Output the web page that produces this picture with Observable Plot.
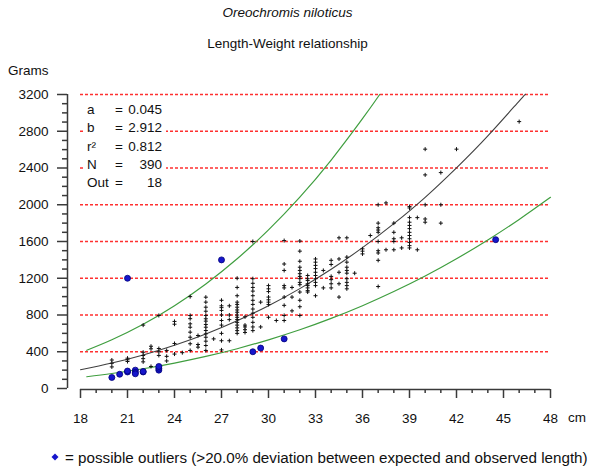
<!DOCTYPE html>
<html><head><meta charset="utf-8">
<script src="https://cdn.jsdelivr.net/npm/d3@7"></script>
<script src="https://cdn.jsdelivr.net/npm/@observablehq/plot@0.6"></script>
<style>
body{margin:0;background:#fff;font-family:"Liberation Sans",Arial,sans-serif;}
#wrap{position:relative;width:590px;height:469px;overflow:hidden;background:#fff}
.t{position:absolute;white-space:nowrap;color:#111;font-size:13.5px;line-height:1}
#stats{position:absolute;left:84px;top:100px;width:82px;height:96px;background:#fff}
#stats .t{position:absolute}
</style></head><body><div id="wrap"></div>
<script>
// ---- data ----
const title = "Oreochromis niloticus";
const subtitle = "Length-Weight relationship";
const yTitle = "Grams";
const xTitle = "cm";
const legendText = "= possible outliers (>20.0% deviation between expected and observed length)";
const statLabels = ["a", "b", "r²", "N", "Out"];
const statValues = ["0.045", "2.912", "0.812", "390", "18"];

const xMajorTicks = [18, 21, 24, 27, 30, 33, 36, 39, 42, 45, 48];
const yMajorTicks = [0, 400, 800, 1200, 1600, 2000, 2400, 2800, 3200];
const gridLines = [400, 800, 1200, 1600, 2000, 2400, 2800, 3200];

const lengthClasses = [20, 21, 22, 22.5, 23, 23.5, 24, 24.5, 25, 25.5, 26, 26.5, 27, 27.5, 28, 28.5,
  29, 29.5, 30, 30.5, 31, 31.5, 32, 32.5, 33, 33.5, 34, 34.5, 35, 35.5, 36, 36.5, 37, 37.5, 38, 38.5,
  39, 39.5, 40, 41, 42, 46];
const weightsByLength = [
  [310, 275, 235],
  [330, 312, 294],
  [690, 395, 360, 325, 290],
  [460, 432, 240],
  [795, 435, 400, 360],
  [414, 350, 300],
  [730, 700, 490, 375],
  [390],
  [1000, 795, 760, 704, 667, 613, 558, 487, 414],
  [577, 479, 450],
  [994, 940, 885, 841, 795, 759, 733, 697, 667, 631, 595, 558, 515, 468, 414],
  [540],
  [960, 900, 880, 850, 800, 740, 690, 600, 520, 420],
  [900, 800, 750, 520],
  [1200, 1100, 1010, 940, 915, 885, 855, 830, 800, 775, 750, 720, 690, 660, 630, 600],
  [780, 690, 670, 640, 610],
  [1600, 1195, 1145, 1100, 1060, 1010, 960, 915, 865, 820, 775, 720, 670, 630],
  [940, 670],
  [1120, 1085, 1055, 995, 965, 940, 915, 775],
  [740],
  [1610, 1355, 1285, 1120, 1095, 995, 905, 795, 740],
  [1100, 995, 845],
  [1605, 1495, 1385, 1320, 1285, 1250, 1220, 1195, 1155, 1130, 1050, 960, 890, 795],
  [1230, 1195, 1175, 1140, 1120, 1095, 1065, 1050],
  [1410, 1375, 1340, 1305, 1265, 1230, 1195, 1155, 1120, 1010],
  [1285, 1095],
  [1395, 1350, 1220, 1185, 1140, 1095],
  [1640, 1410, 1265, 1140, 995],
  [1640, 1430, 1375, 1320, 1285, 1255, 1195, 1155, 1120, 1085],
  [1255],
  [1520, 1495, 1465],
  [1665],
  [2000, 1800, 1750, 1725, 1700, 1600, 1500, 1475, 1395, 1110],
  [2020, 1510],
  [1800, 1700, 1630, 1600, 1510],
  [1640, 1530],
  [1980, 1965, 1860, 1810, 1775, 1740, 1700, 1665, 1630, 1590, 1555, 1530],
  [1860, 1510],
  [2605, 2325, 2000, 1845, 1810],
  [2350, 2000, 1800],
  [2605],
  [2905]
];

const outlierLength = [20, 20.5, 21, 21, 21.5, 21.5, 21.5, 22, 22, 23, 23, 23, 21, 27, 29, 29.5, 31, 44.5];
const outlierWeight = [120, 155, 180, 190, 200, 175, 160, 180, 185, 200, 220, 240, 1200, 1400, 400, 440, 540, 1620];

const fitLength = [18, 20, 22, 24, 26, 28, 30, 32, 34, 36, 38, 40, 42, 44, 46, 46.4];
const fitWeight = [204, 277, 365, 471, 594, 737, 901, 1087, 1298, 1533, 1794, 2081, 2402, 2750, 3129, 3200];
const upperLength = [18.4, 20, 22, 24, 26, 28, 30, 32, 34, 36, 37.1];
const upperWeight = [416, 530, 699, 901, 1138, 1412, 1726, 2083, 2487, 2937, 3200];
const lowerLength = [18.4, 20, 22, 24, 26, 28, 30, 32, 34, 36, 38, 40, 42, 44, 46, 48];
const lowerWeight = [128, 163, 215, 277, 349, 433, 530, 639, 763, 901, 1055, 1224, 1412, 1617, 1840, 2081];

// ---- build tables ----
const obs = lengthClasses.flatMap((L, i) => weightsByLength[i].map(w => ({L, w})));
const outliers = outlierLength.map((L, i) => ({L, w: outlierWeight[i]}));
const fit = fitLength.map((L, i) => ({L, w: fitWeight[i]}));
const upper = upperLength.map((L, i) => ({L, w: upperWeight[i]}));
const lower = lowerLength.map((L, i) => ({L, w: lowerWeight[i]}));
const xMinorTicks = d3.range(18, 49, 1).filter(v => !xMajorTicks.includes(v));
const yMinorTicks = d3.range(0, 3201, 100).filter(v => !yMajorTicks.includes(v));

const axisColor = "#3a3a3a";
const chart = Plot.plot({
  width: 590, height: 469,
  marginLeft: 80, marginRight: 40, marginTop: 94, marginBottom: 81,
  x: {domain: [18, 48]},
  y: {domain: [0, 3200]},
  style: {fontFamily: "'Liberation Sans', Arial, sans-serif", fontSize: "13.5px", color: "#111", background: "transparent", overflow: "visible"},
  marks: [
    Plot.ruleY(gridLines, {stroke: "#ff3030", strokeDasharray: "3,2", strokeWidth: 1.5}),
    Plot.axisX(xMajorTicks, {tickSize: 9, tickPadding: 15, dy: 1, stroke: axisColor, strokeWidth: 1.5, label: null, tickFormat: d => String(d)}),
    Plot.axisX(xMinorTicks, {tickSize: 4, dy: 1, text: null, stroke: axisColor, strokeWidth: 1.5, label: null}),
    Plot.ruleY([0], {dy: 1, stroke: axisColor, strokeWidth: 1.5}),
    Plot.axisY(yMajorTicks, {tickSize: 10, tickPadding: 9, dx: -13, stroke: axisColor, strokeWidth: 1.5, label: null, tickFormat: d => String(d)}),
    Plot.axisY(yMinorTicks, {tickSize: 5, dx: -13, text: null, stroke: axisColor, strokeWidth: 1.5, label: null}),
    Plot.ruleX([18], {y1: 0, y2: 3200, dx: -13, stroke: axisColor, strokeWidth: 1.5}),
    Plot.line(lower, {x: "L", y: "w", curve: "natural", stroke: "#3f9e3f", strokeWidth: 1.2}),
    Plot.line(upper, {x: "L", y: "w", curve: "natural", stroke: "#3f9e3f", strokeWidth: 1.2}),
    Plot.line(fit, {x: "L", y: "w", curve: "natural", stroke: "#404040", strokeWidth: 1.1}),
    Plot.dot(obs, {x: "L", y: "w", symbol: "plus", r: 1.4, stroke: "#111", strokeWidth: 1}),
    Plot.dot(outliers, {x: "L", y: "w", symbol: "circle", r: 3, fill: "#1616cc", stroke: "#00007a", strokeWidth: 0.8})
  ]
});

const wrap = document.getElementById("wrap");
chart.style.position = "absolute";
chart.style.left = "0px";
chart.style.top = "0px";
wrap.appendChild(chart);

function addText(txt, left, top, extra) {
  const d = document.createElement("div");
  d.className = "t";
  d.textContent = txt;
  d.style.left = left + "px";
  d.style.top = top + "px";
  if (extra) Object.assign(d.style, extra);
  wrap.appendChild(d);
  return d;
}
addText(title, 0, 6, {width: "575px", textAlign: "center", fontStyle: "italic"});
addText(subtitle, 0, 37, {width: "575px", textAlign: "center"});
addText(yTitle, 8, 64);
addText(xTitle, 568, 411);

// stats box
const box = document.createElement("div");
box.id = "stats";
wrap.appendChild(box);
statLabels.forEach((lab, i) => {
  const top = 3 + i * 18.3;
  const l = document.createElement("div"); l.className = "t"; l.textContent = lab;
  l.style.left = "3px"; l.style.top = top + "px"; box.appendChild(l);
  const e = document.createElement("div"); e.className = "t"; e.textContent = "=";
  e.style.left = "31px"; e.style.top = top + "px"; box.appendChild(e);
  const v = document.createElement("div"); v.className = "t"; v.textContent = statValues[i];
  v.style.right = "4px"; v.style.top = top + "px"; box.appendChild(v);
});

// legend
const lg = document.createElementNS("http://www.w3.org/2000/svg", "svg");
lg.setAttribute("width", "8"); lg.setAttribute("height", "8");
lg.style.position = "absolute"; lg.style.left = "51px"; lg.style.top = "453px";
const p = document.createElementNS("http://www.w3.org/2000/svg", "path");
p.setAttribute("d", "M4 0.5L7.5 4L4 7.5L0.5 4Z"); p.setAttribute("fill", "#1616cc");
lg.appendChild(p); wrap.appendChild(lg);
addText(legendText, 65, 450, {fontSize: "15.2px"});
</script></body></html>
